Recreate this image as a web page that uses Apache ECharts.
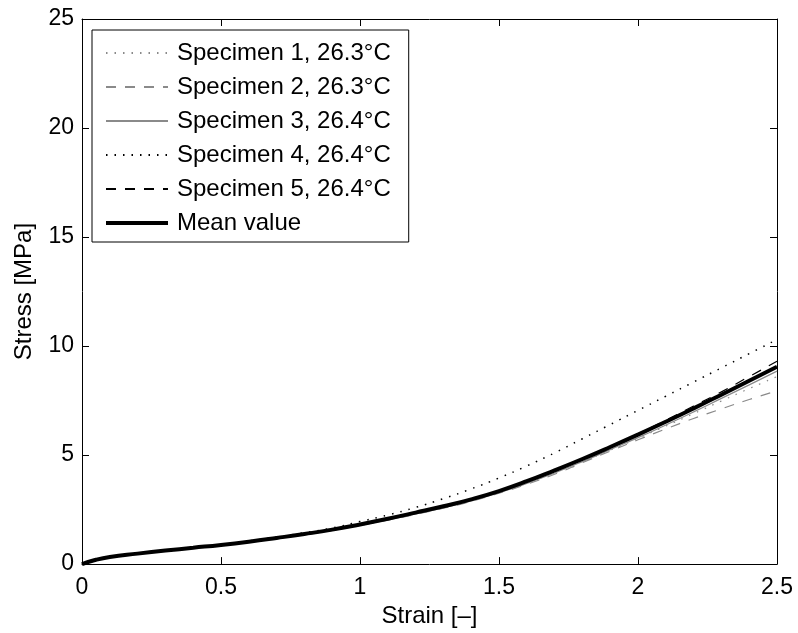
<!DOCTYPE html>
<html>
<head>
<meta charset="utf-8">
<script src="https://cdn.jsdelivr.net/npm/echarts@6/dist/echarts.min.js"></script>
<style>html,body{margin:0;padding:0;background:#fff;}#c{width:798px;height:633px;}</style>
</head>
<body>
<div id="c"></div>
<script>
var strain = [0,0.05,0.1,0.2,0.3,0.4,0.5,0.6,0.7,0.8,0.9,1.0,1.1,1.2,1.3,1.4,1.5,1.6,1.7,1.8,1.9,2.0,2.1,2.2,2.3,2.4,2.5];
var spec1 = [0,0.2,0.33,0.48,0.62,0.75,0.88,1.03,1.19,1.37,1.57,1.8,2.05,2.33,2.62,2.94,3.3,3.72,4.2,4.7,5.22,5.77,6.33,6.9,7.48,8.05,8.6];
var spec2 = [0,0.19,0.32,0.47,0.61,0.74,0.87,1.01,1.17,1.35,1.55,1.78,2.02,2.28,2.56,2.88,3.25,3.66,4.12,4.65,5.18,5.7,6.2,6.68,7.12,7.55,7.95];
var spec3 = [0,0.19,0.32,0.47,0.61,0.74,0.87,1.01,1.17,1.35,1.55,1.78,2.03,2.3,2.58,2.9,3.27,3.7,4.18,4.7,5.25,5.8,6.38,6.98,7.6,8.22,8.85];
var spec4 = [0,0.19,0.32,0.48,0.62,0.76,0.9,1.06,1.24,1.44,1.66,1.95,2.25,2.6,3.0,3.45,3.95,4.5,5.1,5.75,6.4,7.05,7.7,8.35,9.0,9.65,10.3];
var spec5 = [0,0.2,0.33,0.48,0.62,0.75,0.88,1.03,1.2,1.38,1.58,1.82,2.08,2.36,2.65,2.97,3.35,3.8,4.3,4.83,5.4,5.98,6.6,7.25,7.9,8.6,9.3];
var meanVal = [0,0.2,0.33,0.48,0.62,0.75,0.88,1.03,1.2,1.38,1.58,1.82,2.08,2.36,2.65,2.97,3.35,3.8,4.3,4.82,5.37,5.94,6.53,7.14,7.77,8.41,9.05];
var names = ['Specimen 1, 26.3°C','Specimen 2, 26.3°C','Specimen 3, 26.4°C','Specimen 4, 26.4°C','Specimen 5, 26.4°C','Mean value'];

function pairs(ys){ return strain.map(function(x,i){ return [x, ys[i]]; }); }
var FONT = 'Liberation Sans, Arial, Helvetica, sans-serif';
var GRAY = '#8a8a8a';
function mk(name, ys, color, width, type){
  return { name: name, type: 'line', data: pairs(ys), showSymbol: false, symbol: 'none', smooth: true,
    xAxisIndex: 0, yAxisIndex: 0,
    lineStyle: { color: color, width: width, type: type }, itemStyle: { color: color } };
}
var chart = echarts.init(document.getElementById('c'), null, {renderer: 'canvas'});
var axisCommon = {
  axisLine: { show: true, onZero: false, lineStyle: { color: '#000', width: 1 } },
  axisTick: { show: true, inside: true, length: 7, lineStyle: { color: '#000' } },
  splitLine: { show: false }
};
var legendData = names.map(function(n, i){
  var o = { name: n };
  if (i === 5) o.lineStyle = { width: 4 };
  return o;
});
chart.setOption({
  animation: false,
  backgroundColor: '#fff',
  grid: { left: 82, right: 21, top: 19, bottom: 66 },
  legend: {
    orient: 'vertical', left: 92, top: 30,
    data: legendData,
    itemWidth: 62, itemHeight: 14, itemGap: 6,
    padding: [9, 18, 5, 12],
    borderColor: '#000', borderWidth: 1, backgroundColor: '#fff',
    itemStyle: { opacity: 0, borderWidth: 0 },
    textStyle: { fontFamily: FONT, fontSize: 24, color: '#000', lineHeight: 28, padding: [0,0,0,4] }
  },
  xAxis: [
    Object.assign({ type: 'value', position: 'bottom', min: 0, max: 2.5, interval: 0.5,
      name: 'Strain [–]', nameLocation: 'middle', nameGap: 33,
      nameTextStyle: { fontFamily: FONT, fontSize: 24, color: '#000' },
      axisLabel: { fontFamily: FONT, fontSize: 23, color: '#000', margin: 12,
        formatter: function(v){ return String(v); } } }, axisCommon),
    Object.assign({ type: 'value', position: 'top', min: 0, max: 2.5, interval: 0.5,
      axisLabel: { show: false } }, axisCommon)
  ],
  yAxis: [
    Object.assign({ type: 'value', position: 'left', min: 0, max: 25, interval: 5,
      name: 'Stress [MPa]', nameLocation: 'middle', nameGap: 46, nameRotate: 90,
      nameTextStyle: { fontFamily: FONT, fontSize: 24, color: '#000' },
      axisLabel: { fontFamily: FONT, fontSize: 23, color: '#000', margin: 8 } }, axisCommon),
    Object.assign({ type: 'value', position: 'right', min: 0, max: 25, interval: 5,
      axisLabel: { show: false } }, axisCommon)
  ],
  series: [
    mk(names[0], spec1, GRAY, 1.2, [1.5, 7]),
    mk(names[1], spec2, GRAY, 1.2, [10, 9]),
    mk(names[2], spec3, GRAY, 1.2, 'solid'),
    mk(names[3], spec4, '#000', 1.5, [1.5, 7]),
    mk(names[4], spec5, '#000', 1.2, [10, 9]),
    mk(names[5], meanVal, '#000', 4, 'solid')
  ]
});
</script>
</body>
</html>
